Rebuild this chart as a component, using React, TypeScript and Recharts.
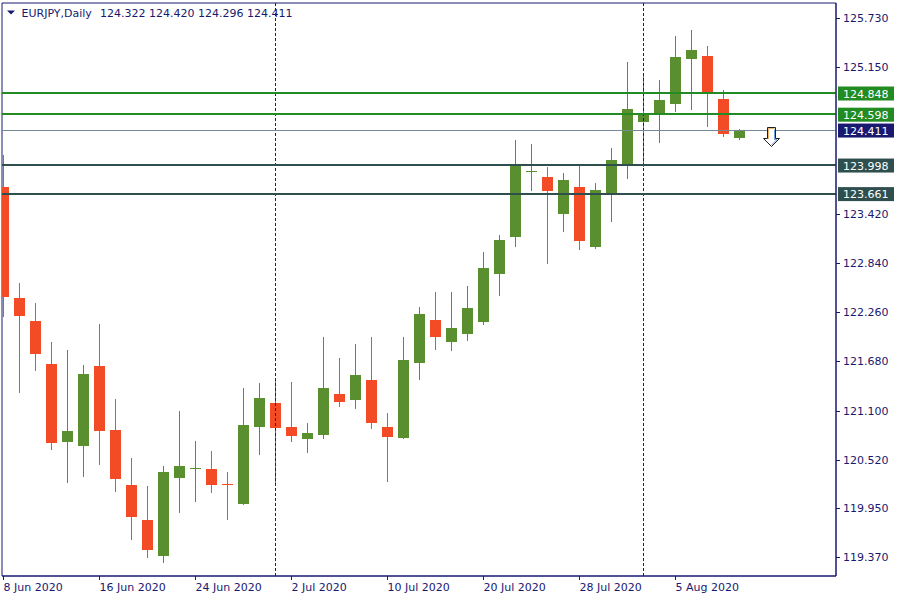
import React from 'react';
import { ComposedChart, Bar, XAxis, YAxis, ReferenceLine, ReferenceArea, Scatter } from 'recharts';

const symbol = 'EURJPY,Daily';

const dates = [
  '8 Jun', '9 Jun', '10 Jun', '11 Jun', '12 Jun', '15 Jun', '16 Jun', '17 Jun', '18 Jun', '19 Jun',
  '22 Jun', '23 Jun', '24 Jun', '25 Jun', '26 Jun', '29 Jun', '30 Jun', '1 Jul', '2 Jul', '3 Jul',
  '6 Jul', '7 Jul', '8 Jul', '9 Jul', '10 Jul', '13 Jul', '14 Jul', '15 Jul', '16 Jul', '17 Jul',
  '20 Jul', '21 Jul', '22 Jul', '23 Jul', '24 Jul', '27 Jul', '28 Jul', '29 Jul', '30 Jul', '31 Jul',
  '3 Aug', '4 Aug', '5 Aug', '6 Aug', '7 Aug', '10 Aug', '11 Aug',
];

const opens = [
  123.743, 122.430, 122.158, 121.651, 120.734, 120.687, 121.627, 120.872, 120.223, 119.810,
  119.389, 120.309, 120.417, 120.412, 120.237, 119.999, 120.911, 121.191, 120.907, 120.769,
  120.817, 121.297, 121.230, 121.462, 120.907, 120.781, 121.666, 122.170, 121.914, 122.008,
  122.150, 122.716, 123.153, 123.916, 123.857, 123.424, 123.739, 123.035, 123.649, 124.002,
  124.510, 124.592, 124.722, 125.253, 125.285, 124.778, 124.322,
];
const highs = [
  124.117, 122.607, 122.371, 121.910, 121.816, 121.639, 122.123, 121.238, 120.542, 120.211,
  120.447, 121.096, 120.742, 120.624, 120.376, 121.368, 121.427, 121.486, 121.438, 120.955,
  121.969, 121.722, 121.887, 121.969, 121.073, 121.969, 122.323, 122.500, 122.500, 122.571,
  122.972, 123.173, 124.294, 124.247, 123.975, 123.905, 123.991, 123.787, 124.200, 125.214,
  125.069, 125.002, 125.521, 125.592, 125.403, 124.884, 124.420,
];
const lows = [
  122.209, 121.309, 121.572, 120.640, 120.250, 120.321, 120.463, 120.144, 119.578, 119.365,
  119.306, 119.896, 120.026, 120.132, 119.814, 119.987, 120.581, 120.243, 120.734, 120.604,
  120.769, 121.147, 121.123, 120.887, 120.262, 120.762, 121.466, 121.820, 121.808, 121.926,
  122.115, 122.457, 123.035, 123.696, 122.834, 123.212, 123.000, 123.011, 123.330, 123.837,
  123.979, 124.262, 124.628, 124.651, 124.451, 124.333, 124.296,
];
const closes = [
  122.445, 122.221, 121.772, 120.722, 120.860, 121.533, 120.864, 120.297, 119.849, 119.460,
  120.376, 120.446, 120.424, 120.227, 120.233, 120.931, 121.250, 120.899, 120.805, 120.837,
  121.368, 121.206, 121.521, 120.958, 120.793, 121.698, 122.241, 121.973, 122.076, 122.312,
  122.784, 123.114, 123.991, 123.922, 123.696, 123.822, 123.106, 123.704, 124.058, 124.660,
  124.601, 124.766, 125.273, 125.356, 124.840, 124.368, 124.411,
];

const xTickIndex = [0, 6, 12, 18, 24, 30, 36, 42];
const xTickLabels = ['8 Jun 2020', '16 Jun 2020', '24 Jun 2020', '2 Jul 2020', '10 Jul 2020', '20 Jul 2020', '28 Jul 2020', '5 Aug 2020'];
const yTickValues = [125.73, 125.15, 123.42, 122.84, 122.26, 121.68, 121.1, 120.52, 119.95, 119.37];

const levelPrices = [124.848, 124.598, 123.998, 123.661];
const bidPrice = 124.411;
const separatorIndex = [17, 40];
const signalIndex = [48];
const signalPrice = [124.341];

// styles
const NAVY = '#191970';
const UP = '#5a8f30';
const DOWN = '#f34b26';
const FONT = 'DejaVu Sans, Verdana, sans-serif';
const levelColors = ['#228b22', '#228b22', '#2f4f4f', '#2f4f4f'];
const BID_LINE = '#778899';
const BID_BOX = '#191970';

const X_DOMAIN: [number, number] = [-0.09375, 52.03125];
const Y_DOMAIN: [number, number] = [119.149, 125.91];

const rows = dates.map((d, i) => ({
  i,
  date: d,
  open: opens[i],
  high: highs[i],
  low: lows[i],
  close: closes[i],
  range: [lows[i], highs[i]],
}));

const signalRows = signalIndex.map((s, k) => ({ i: s, price: signalPrice[k] }));

const Candle = (props: any) => {
  const { x, y, width, height } = props;
  const p = props.payload ?? props;
  if (x == null || y == null || !p || p.high == null) return null;
  const cx = Math.round(x + width / 2 - 0.5) + 0.5;
  const ppu = height / (p.high - p.low);
  const yOf = (v: number) => y + (p.high - v) * ppu;
  const up = p.close >= p.open;
  const color = up ? UP : DOWN;
  const top = yOf(Math.max(p.open, p.close));
  const bot = yOf(Math.min(p.open, p.close));
  const h = Math.max(1, bot - top);
  return (
    <g>
      <line x1={cx} x2={cx} y1={y} y2={y + height} stroke={color} strokeWidth={1} shapeRendering="crispEdges" />
      <rect x={cx - 5.5} y={top} width={11} height={h} fill={color} shapeRendering="crispEdges" />
    </g>
  );
};

const Arrow = (props: any) => {
  const { cx, cy } = props;
  if (cx == null || cy == null) return null;
  const x = Math.round(cx) - 0.5;
  const y = Math.round(cy) + 0.5;
  const d = `M${x - 4},${y - 9} L${x + 4},${y - 9} L${x + 4},${y + 2} L${x + 8},${y + 2} L${x},${y + 10} L${x - 8},${y + 2} L${x - 4},${y + 2} Z`;
  return (
    <g>
      <path d={d} fill="#ffffff" stroke="#1e1e1e" strokeWidth={1} />
      <path d={`M${x - 3},${y + 2.5} L${x - 3},${y - 8} L${x + 3},${y - 8}`} fill="none" stroke="#f0a040" strokeWidth={0.8} />
      <path d={`M${x + 3},${y - 7} L${x + 3},${y + 3} L${x + 5.5},${y + 3} L${x},${y + 8.5}`} fill="none" stroke="#4a86d0" strokeWidth={0.8} />
    </g>
  );
};

const XTick = (props: any) => {
  const { x, y, payload } = props;
  const k = xTickIndex.indexOf(payload.value);
  if (k < 0) return null;
  return (
    <text x={x} y={y + 9} fill={NAVY} fontSize={11} fontFamily={FONT} textAnchor="start">
      {xTickLabels[k]}
    </text>
  );
};

const YTick = (props: any) => {
  const { x, y, payload } = props;
  const v = payload.value;
  const li = levelPrices.indexOf(v);
  const isBid = v === bidPrice;
  const label = Number(v).toFixed(3);
  if (li >= 0 || isBid) {
    const fill = isBid ? BID_BOX : levelColors[li];
    return (
      <g>
        <rect x={x - 5} y={y - 6.5} width={56} height={14} fill={fill} />
        <text x={x} y={y + 4.5} fill="#ffffff" fontSize={11} fontFamily={FONT}>{label}</text>
      </g>
    );
  }
  return (
    <g>
      <line x1={x - 7} x2={x - 3} y1={Math.round(y) + 0.5} y2={Math.round(y) + 0.5} stroke={NAVY} strokeWidth={1} />
      <text x={x} y={y + 4} fill={NAVY} fontSize={11} fontFamily={FONT}>{label}</text>
    </g>
  );
};

export default function App() {
  const last = rows[rows.length - 1];
  const allYTicks = [...yTickValues, ...levelPrices, bidPrice].sort((a, b) => b - a);
  return (
    <div style={{ position: 'absolute', left: 0, top: 0, width: 900, height: 600, background: '#ffffff' }}>
      <ComposedChart width={900} height={600} data={rows} margin={{ top: 3, right: 0, bottom: 0, left: 2 }}>
        <XAxis
          dataKey="i"
          type="number"
          domain={X_DOMAIN}
          allowDataOverflow
          ticks={xTickIndex}
          interval={0}
          tick={<XTick />}
          tickSize={4}
          tickMargin={2}
          tickLine={{ stroke: NAVY }}
          axisLine={{ stroke: NAVY }}
          height={24}
        />
        <YAxis
          orientation="right"
          type="number"
          domain={Y_DOMAIN}
          allowDataOverflow
          ticks={allYTicks}
          interval={0}
          tick={<YTick />}
          tickLine={false}
          tickSize={3}
          tickMargin={4}
          axisLine={{ stroke: NAVY }}
          width={64}
        />
        {separatorIndex.map((s) => (
          <ReferenceLine key={'sep' + s} x={s} stroke={NAVY} strokeWidth={1} strokeDasharray="3 2" />
        ))}
        <Bar dataKey="range" barSize={11} shape={(p: any) => <Candle {...p} />} isAnimationActive={false} />
        {levelPrices.map((p, k) => (
          <ReferenceLine key={'lvl' + k} y={p} stroke={levelColors[k]} strokeWidth={2} shapeRendering="crispEdges" />
        ))}
        <ReferenceLine y={bidPrice} stroke={BID_LINE} strokeWidth={1} shapeRendering="crispEdges" />
        <Scatter data={signalRows} dataKey="price" shape={(p: any) => <Arrow {...p} />} isAnimationActive={false} />
        <ReferenceArea
          x1={X_DOMAIN[0]}
          x2={X_DOMAIN[1]}
          y1={Y_DOMAIN[0]}
          y2={Y_DOMAIN[1]}
          fill="none"
          fillOpacity={0}
          stroke={NAVY}
          strokeWidth={1}
          ifOverflow="visible"
        />
      </ComposedChart>
      <svg width={320} height={24} style={{ position: 'absolute', left: 0, top: 0, pointerEvents: 'none' }}>
        <path d="M7,10.5 L15,10.5 L11,14.5 Z" fill={NAVY} />
        <text x={21.5} y={17.3} fill={NAVY} fontSize={11} fontFamily={FONT}>{symbol}</text>
        <text x={100} y={17.3} fill={NAVY} fontSize={11} fontFamily={FONT}>
          {[last.open, last.high, last.low, last.close].map((v) => v.toFixed(3)).join(' ')}
        </text>
      </svg>
    </div>
  );
}
